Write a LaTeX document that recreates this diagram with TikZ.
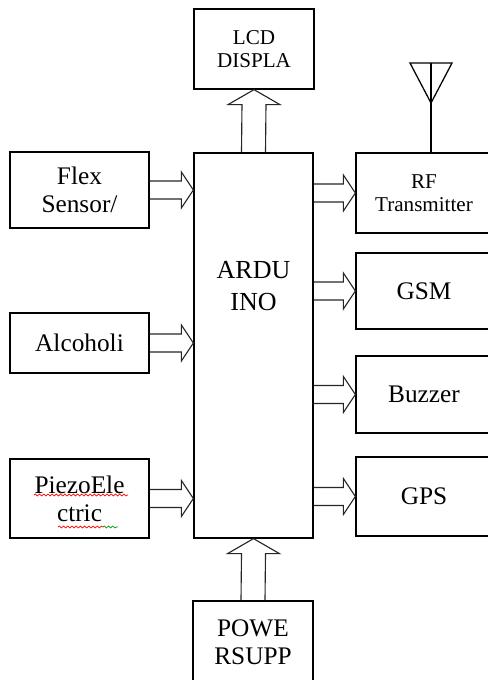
\documentclass[tikz,border=0pt]{standalone}
\usepackage{fontspec}
\setmainfont{Liberation Serif}
\usetikzlibrary{calc,decorations.pathmorphing}

\tikzset{
  block/.style={draw, line width=0.9pt, inner sep=0pt, align=center, font=\fontsize{18}{20}\selectfont},
  smallblock/.style={block, font=\fontsize{15}{16}\selectfont},
  blockarrow/.style={draw=black!85, line width=0.8pt, line join=miter},
  squiggle/.style={decorate, decoration={snake, amplitude=0.7pt, segment length=3pt}, line width=0.5pt}
}

% hollow arrow pointing right, #1 = tail point, #2 = tip point
\newcommand{\hblock}[2]{%
  \draw[blockarrow] ($(#1)+(0,-9)$) -- ($(#2)+(-12,-9)$) -- ($(#2)+(-12,-18)$) -- (#2)
    -- ($(#2)+(-12,18)$) -- ($(#2)+(-12,9)$) -- ($(#1)+(0,9)$);}
% hollow arrow pointing up, #1 = tail point, #2 = tip point
\newcommand{\vblock}[2]{%
  \draw[blockarrow] ($(#1)+(-12,0)$) -- ($(#2)+(-12,15)$) -- ($(#2)+(-26,15)$) -- (#2)
    -- ($(#2)+(26,15)$) -- ($(#2)+(12,15)$) -- ($(#1)+(12,0)$);}

\begin{document}
\begin{tikzpicture}[x=0.025cm, y=-0.025cm]
% one unit is one pixel of the sketch
\def\px{0.025cm}
\useasboundingbox (0,0) rectangle (488,680);

% Controller in the middle
\node[block, minimum width=119*\px, minimum height=385*\px] (ard) at (253.5,345.5) {};
\node[font=\fontsize{18.5}{22.5}\selectfont, align=center] (ardtext) at (253.5,286) {ARDU\\INO};

% Display on top, supply below
\node[smallblock, minimum width=120*\px, minimum height=80*\px] (lcd) at (254,49) {LCD\\DISPLA};
\node[block, minimum width=120*\px, minimum height=82*\px] (pow) at (253,642) {POWE\\RSUPP};

% Sensors on the left
\node[block, minimum width=139*\px, minimum height=76*\px] (flex) at (79.5,190) {Flex\\Sensor/};
\node[block, minimum width=139*\px, minimum height=60*\px] (alc) at (79.5,343) {Alcoholi};
\node[block, minimum width=139*\px, minimum height=79*\px] (piezo) at (79.5,498.5) {PiezoEle\\ctric};

% Outputs on the right
\node[smallblock, minimum width=136*\px, minimum height=80*\px] (rf) at (424,193) {RF\\Transmitter};
\node[block, minimum width=136*\px, minimum height=76*\px] (gsm) at (424,291) {GSM};
\node[block, minimum width=136*\px, minimum height=77*\px] (buz) at (424,394.5) {Buzzer};
\node[block, minimum width=136*\px, minimum height=79*\px] (gps) at (424,496.5) {GPS};

% Antenna
\coordinate (anttop) at (431,63);
\draw[line width=0.9pt] (rf.north -| anttop) -- (anttop);
\draw[line width=0.9pt] (410,63) -- (452,63) -- (431,103) -- cycle;

% Arrows
\hblock{flex.east}{ard.west |- flex.east}
\hblock{alc.east}{ard.west |- alc.east}
\hblock{piezo.east}{ard.west |- piezo.east}
\hblock{ard.east |- rf.west}{rf.west}
\hblock{ard.east |- gsm.west}{gsm.west}
\hblock{ard.east |- buz.west}{buz.west}
\hblock{ard.east |- gps.west}{gps.west}
\vblock{ard.north}{lcd.south}
\vblock{pow.north}{ard.south}

% Spelling marks under the piezo text
\draw[red, squiggle] (34,495) -- (128,495);
\draw[red, squiggle] (58,527) -- (103,527);
\draw[green!60!black, squiggle] (103,527) -- (118,527);
\end{tikzpicture}
\end{document}
